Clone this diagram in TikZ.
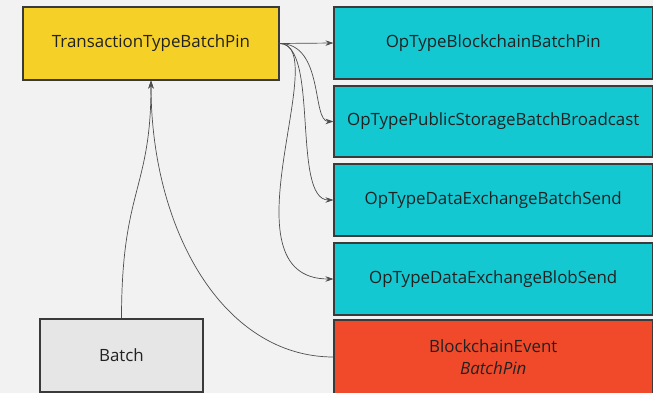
\documentclass[tikz,border=0pt]{standalone}
\usepackage{fontspec}
\setmainfont{Open Sans}
\usetikzlibrary{arrows.meta}
\definecolor{bg}{HTML}{F2F2F2}
\definecolor{ylw}{HTML}{F5D027}
\definecolor{cyn}{HTML}{14C8D2}
\definecolor{rd}{HTML}{F04A2A}
\definecolor{gry}{HTML}{E6E6E6}
\definecolor{edge}{HTML}{3A3A3A}
\definecolor{txt}{HTML}{222222}
\tikzset{
  box/.style={draw=edge, line width=1.1pt, inner sep=0pt, minimum height=72pt, align=center, text=txt, font=\fontsize{16.9}{22}\selectfont},
  conn/.style={draw=edge!90, line width=0.7pt, -{Stealth[length=8pt,width=5.5pt]}},
}
\begin{document}
\begin{tikzpicture}[x=1pt,y=-1pt]
\useasboundingbox[fill=bg] (0,0) rectangle (653,393);
\node[box, fill=ylw, minimum width=256pt, minimum height=73pt] (tp) at (151,43.5) {TransactionTypeBatchPin};
\node[box, fill=cyn, minimum width=318.5pt] (b1) at (493.25,43) {OpTypeBlockchainBatchPin};
\node[box, fill=cyn, minimum width=318.5pt, minimum height=71pt] (b2) at (493.25,121.5) {OpTypePublicStorageBatchBroadcast};
\node[box, fill=cyn, minimum width=318.5pt] (b3) at (493.25,200) {OpTypeDataExchangeBatchSend};
\node[box, fill=cyn, minimum width=318.5pt] (b4) at (493.25,279) {OpTypeDataExchangeBlobSend};
\node[box, fill=rd, minimum width=318.5pt, minimum height=74pt] (ev) at (493.25,357) {BlockchainEvent\\\textit{BatchPin}};
\node[box, fill=gry, minimum width=163pt, minimum height=73pt] (batch) at (121.5,355.5) {Batch};
\draw[conn] (tp.east) -- (b1.west);
\draw[conn] (tp.east) .. controls +(45,0) and +(-22,0) .. (b2.west);
\draw[conn] (tp.east) .. controls +(40,0) and +(-42,0) .. (b3.west);
\draw[conn] (tp.east) .. controls +(55,0) and +(-115,0) .. (b4.west);
\draw[conn] (batch.north) .. controls +(0,-130) and +(0,110) .. (tp.south);
\draw[conn] (ev.west) .. controls +(-110,0) and +(0,150) .. (tp.south);
\end{tikzpicture}
\end{document}
